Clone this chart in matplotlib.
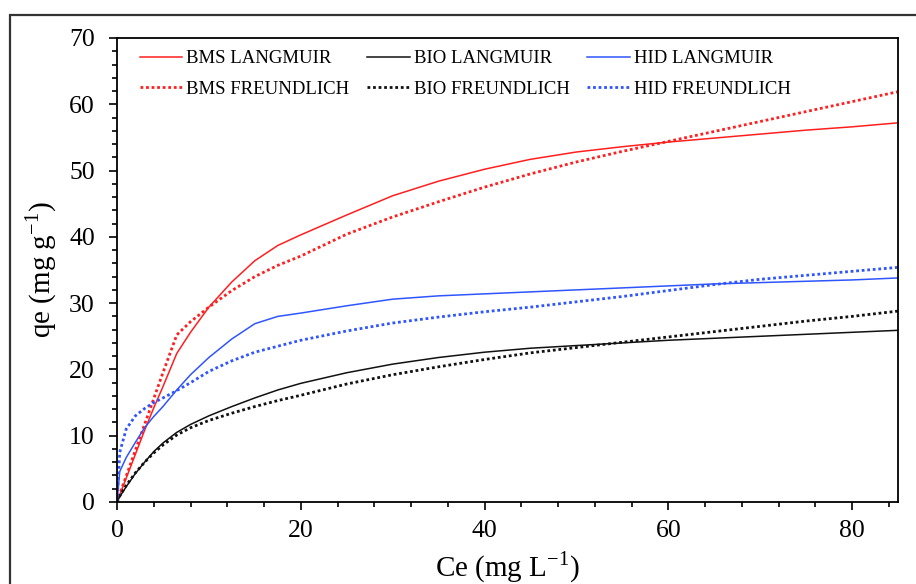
import numpy as np
import matplotlib
matplotlib.use("Agg")
import matplotlib.pyplot as plt
from matplotlib.patches import Rectangle
from matplotlib.ticker import MultipleLocator

plt.rcParams['font.family'] = ['Liberation Serif', 'DejaVu Serif']
plt.rcParams['mathtext.fontset'] = 'custom'
plt.rcParams['mathtext.rm'] = 'Liberation Serif'

# Ce (mg/L) sample points
ce = [0, 0.3, 1, 2, 3, 4, 5, 6.5, 8, 10, 12.5, 15, 17.5, 20, 25, 30, 35, 40,
      45, 50, 55, 60, 65, 70, 75, 80, 85]

# qe (mg/g)
bms_langmuir = [0, 1.1, 3.6, 7.2, 10.8, 14.2, 17.4, 22.4, 25.6, 29.4, 33.2, 36.4,
                38.7, 40.3, 43.3, 46.2, 48.4, 50.2, 51.7, 52.8, 53.6, 54.3, 54.9,
                55.5, 56.1, 56.6, 57.2]
bms_freundlich = [0, 1.2, 3.9, 7.8, 11.7, 15.6, 19.5, 25.2, 27.2, 29.4, 31.9, 34.0,
                  35.7, 37.1, 40.4, 43.0, 45.3, 47.5, 49.5, 51.3, 52.9, 54.4, 55.9,
                  57.4, 58.9, 60.4, 61.9]
bio_langmuir = [0, 0.8, 2.3, 4.3, 6.0, 7.6, 8.9, 10.5, 11.7, 13.0, 14.4, 15.7,
                16.9, 17.9, 19.5, 20.8, 21.8, 22.6, 23.2, 23.6, 24.0, 24.4, 24.7,
                25.0, 25.3, 25.6, 25.9]
bio_freundlich = [0, 0.9, 2.5, 4.4, 6.0, 7.4, 8.6, 10.1, 11.2, 12.3, 13.4, 14.4,
                  15.3, 16.1, 17.8, 19.2, 20.4, 21.5, 22.5, 23.3, 24.1, 24.9, 25.7,
                  26.5, 27.3, 28.0, 28.8]
hid_langmuir = [0, 4.6, 6.7, 9.0, 11.2, 12.9, 14.4, 16.9, 19.2, 21.8, 24.6, 26.9,
                28.0, 28.5, 29.6, 30.6, 31.1, 31.4, 31.7, 32.0, 32.3, 32.6, 32.9,
                33.1, 33.3, 33.5, 33.8]
hid_freundlich = [0, 7.5, 11.0, 13.0, 14.1, 15.0, 15.7, 16.8, 18.0, 19.7, 21.3, 22.6,
                  23.5, 24.4, 25.8, 27.0, 27.9, 28.7, 29.4, 30.2, 31.0, 31.9, 32.8,
                  33.6, 34.2, 34.8, 35.4]

red = '#ff1f1f'
blue = '#2f55ff'
black = '#111111'
dots = (0, (1, 1))

fig = plt.figure(figsize=(9.16, 5.84), dpi=100)
ax = fig.add_axes([117 / 916, 1 - 502 / 584, 781 / 916, 464 / 584])

# legend order is row-wise in the picture, matplotlib fills columns first
ax.plot(ce, bms_langmuir, color=red, lw=1.1, label='BMS LANGMUIR')
ax.plot(ce, bms_freundlich, color=red, lw=2.0, ls=dots, label='BMS FREUNDLICH')
ax.plot(ce, bio_langmuir, color=black, lw=1.1, label='BIO LANGMUIR')
ax.plot(ce, bio_freundlich, color=black, lw=2.0, ls=dots, label='BIO FREUNDLICH')
ax.plot(ce, hid_langmuir, color=blue, lw=1.1, label='HID LANGMUIR')
ax.plot(ce, hid_freundlich, color=blue, lw=2.0, ls=dots, label='HID FREUNDLICH')

ax.set_xlim(0, 85)
ax.set_ylim(0, 70)
ax.xaxis.set_major_locator(MultipleLocator(20))
ax.xaxis.set_minor_locator(MultipleLocator(4))
ax.yaxis.set_major_locator(MultipleLocator(10))
ax.yaxis.set_minor_locator(MultipleLocator(2))
ax.tick_params(which='both', direction='out', top=False, right=False,
               width=1.2, labelsize=18.5, color='black')
ax.tick_params(which='major', length=6)
ax.tick_params(which='minor', length=3.5)
ax.tick_params(axis='y', pad=10)
ax.tick_params(axis='x', pad=7)
for s in ax.spines.values():
    s.set_linewidth(1.3)

ax.set_xlabel(r'Ce (mg L$^{\mathregular{-1}}$)', fontsize=21, labelpad=5)
ax.set_ylabel(r'qe (mg g$^{\mathregular{-1}}$)', fontsize=21, labelpad=7)

ax.legend(ncol=3, frameon=False, loc='upper left', fontsize=13.5,
          bbox_to_anchor=(0.02, 0.99), borderaxespad=0,
          handlelength=2.25, handletextpad=0.22, columnspacing=0.95,
          labelspacing=0.72)

# outer frame of the figure (cut off at right and bottom)
fig.patches.append(Rectangle((9.5 / 916, -0.2), 1.2, 1.2 - 15.5 / 584,
                             transform=fig.transFigure, fill=False,
                             edgecolor='#333333', lw=1.6, clip_on=False))

fig.savefig('out.png', dpi=100)
